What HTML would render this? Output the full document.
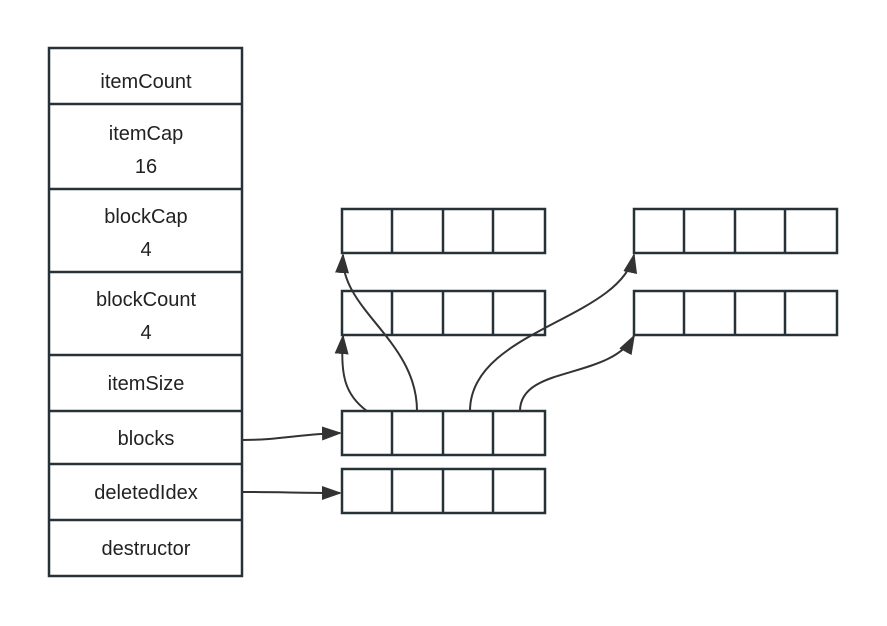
<!DOCTYPE html>
<html><head><meta charset="utf-8"><style>
html,body{margin:0;padding:0;background:#fff;}
svg{display:block}
text{font-family:"Liberation Sans","DejaVu Sans",sans-serif;font-size:20px;fill:#222;text-anchor:middle}
</style></head><body>
<svg width="887" height="626" viewBox="0 0 887 626">
<defs><marker id="a" markerWidth="20" markerHeight="14" refX="18" refY="7" orient="auto" markerUnits="userSpaceOnUse"><path d="M0,0 L20,7 L0,14 Z" fill="#333"/></marker></defs>
<g fill="#fff" stroke="#263238" stroke-width="2.5">
<rect x="49" y="48" width="193" height="528"/>
<line x1="49" y1="104" x2="242" y2="104"/>
<line x1="49" y1="189" x2="242" y2="189"/>
<line x1="49" y1="272" x2="242" y2="272"/>
<line x1="49" y1="355" x2="242" y2="355"/>
<line x1="49" y1="411" x2="242" y2="411"/>
<line x1="49" y1="464" x2="242" y2="464"/>
<line x1="49" y1="520" x2="242" y2="520"/>
</g>
<g>
<text x="146" y="88">itemCount</text>
<text x="146" y="140">itemCap</text>
<text x="146" y="173">16</text>
<text x="146" y="223">blockCap</text>
<text x="146" y="256">4</text>
<text x="146" y="306">blockCount</text>
<text x="146" y="339">4</text>
<text x="146" y="390">itemSize</text>
<text x="146" y="445">blocks</text>
<text x="146" y="499">deletedIdex</text>
<text x="146" y="555">destructor</text>
</g>
<g fill="#fff" stroke="#263238" stroke-width="2.5">
<g id="arr"><rect x="342" y="209" width="203" height="44"/><line x1="392" y1="209" x2="392" y2="253"/><line x1="443" y1="209" x2="443" y2="253"/><line x1="493" y1="209" x2="493" y2="253"/></g>
<use href="#arr" y="82"/>
<use href="#arr" y="202"/>
<use href="#arr" y="260"/>
<use href="#arr" x="292"/>
<use href="#arr" x="292" y="82"/>
</g>
<g fill="none" stroke="#333" stroke-width="2" marker-end="url(#a)">
<path d="M242,440 C280,440 300,434 340,433"/>
<path d="M242,492 C280,492 300,493 340,493"/>
<path d="M367,411 C345,395 340,375 343,336"/>
<path d="M417,411 C417,340 340,310 343,255"/>
<path d="M470,411 C470,330 620,320 634,255"/>
<path d="M520,411 C520,365 610,380 634,336"/>
</g>
</svg>
</body></html>
